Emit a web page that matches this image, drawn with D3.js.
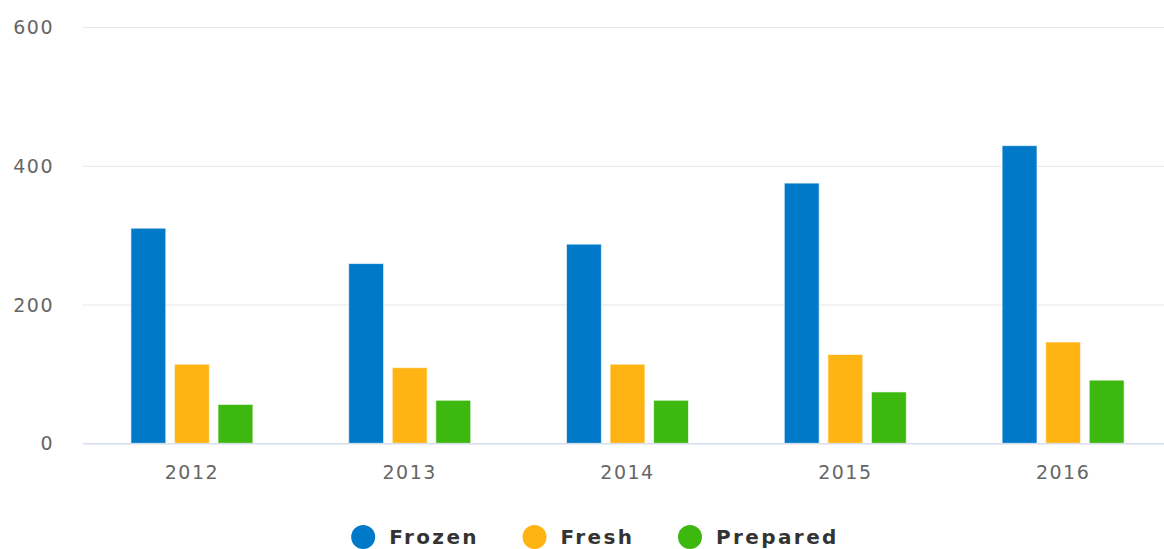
<!DOCTYPE html>
<html>
<head>
<meta charset="utf-8">
<script src="https://cdn.jsdelivr.net/npm/d3@7"></script>
<style>
  html, body { margin: 0; padding: 0; background: #fff; }
  svg { display: block; }
  svg text { font-family: "DejaVu Sans", sans-serif; }
</style>
</head>
<body>
<svg id="chart" width="1164" height="549"></svg>
<script>
// data
var years = ['2012', '2013', '2014', '2015', '2016'];
var seriesNames = ['Frozen', 'Fresh', 'Prepared'];
var frozen = [310, 259, 287, 375, 429];
var fresh = [114, 109, 114, 128, 146];
var prepared = [56, 62, 62, 74, 91];
var yTicks = [0, 200, 400, 600];

var colors = ['#0079c8', '#ffb414', '#3cb80f'];
var values = [frozen, fresh, prepared];

var svg = d3.select('#chart');
var plotLeft = 83, plotRight = 1172, plotTop = 27, plotBottom = 443.3;

var x0 = d3.scaleBand().domain(years).range([plotLeft, plotRight])
    .paddingInner(0.4).paddingOuter(0.2);
var x1 = d3.scaleBand().domain(seriesNames).range([0, x0.bandwidth()])
    .paddingInner(0.2).paddingOuter(0.1);
var y = d3.scaleLinear().domain([0, 600]).range([plotBottom, plotTop]);

// grid
var yAxis = d3.axisLeft(y).tickValues(yTicks).tickSize(-(plotRight - plotLeft)).tickPadding(29);
var gy = svg.append('g').attr('transform', `translate(${plotLeft},0)`).call(yAxis);
gy.select('.domain').remove();
gy.selectAll('.tick line').attr('stroke', '#e6e6e6');
gy.selectAll('.tick text')
    .attr('fill', '#666').style('font-size', '19px').style('letter-spacing', '1.5px')
    .attr('dy', '0.35em');

// bars
var rows = years.map((yr, i) => seriesNames.map((s, j) => ({ year: yr, s: s, v: values[j][i], c: colors[j] })));
svg.append('g').selectAll('g').data(rows).enter().append('g')
    .attr('transform', d => `translate(${x0(d[0].year)},0)`)
  .selectAll('rect').data(d => d).enter().append('rect')
    .attr('x', d => x1(d.s))
    .attr('width', x1.bandwidth())
    .attr('y', d => y(d.v))
    .attr('height', d => y(0) - y(d.v))
    .attr('fill', d => d.c)
    .attr('stroke', 'rgba(255,255,255,0.6)')
    .attr('stroke-width', 1);

// x axis
var xAxis = d3.axisBottom(x0).tickSize(0).tickPadding(22);
var gx = svg.append('g').attr('transform', `translate(0,${plotBottom})`).call(xAxis);
gx.select('.domain').attr('stroke', '#ccd6eb').attr('d', `M${plotLeft},0.5H${plotRight}`);
gx.selectAll('.tick text')
    .attr('fill', '#666').style('font-size', '19px').style('letter-spacing', '1.5px');

// legend
var legend = svg.append('g');
var items = legend.selectAll('g').data(seriesNames).enter().append('g');
items.append('circle').attr('r', 12).attr('cy', 0).attr('cx', 12)
    .attr('fill', (d, i) => colors[i]);
items.append('text').text(d => d)
    .attr('x', 38).attr('y', 7)
    .attr('fill', '#333').style('font-size', '20px').style('font-weight', 'bold')
    .style('letter-spacing', '2.4px');
var gap = 43.5;
var pos = 0;
items.each(function () {
  var w = this.getBBox().width;
  d3.select(this).attr('transform', `translate(${pos},0)`);
  pos += w + gap;
});
var total = pos - gap;
legend.attr('transform', `translate(${595 - total / 2},537)`);
</script>
</body>
</html>
